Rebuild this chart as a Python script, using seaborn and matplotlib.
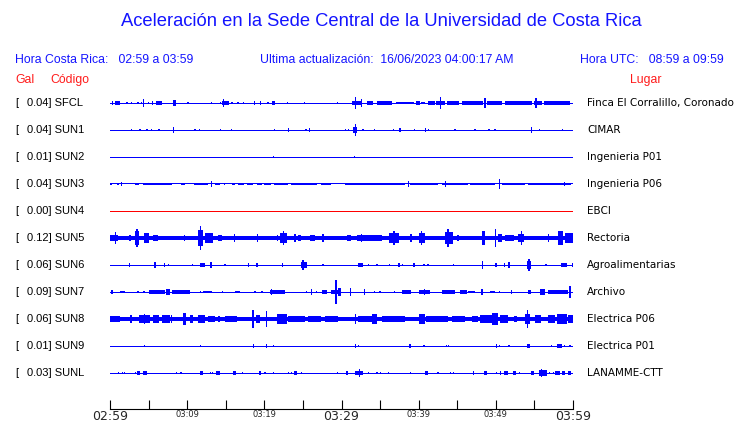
import numpy as np
import pandas as pd
import seaborn as sns
import matplotlib.pyplot as plt

# Stations (top to bottom)
codes = ["SFCL", "SUN1", "SUN2", "SUN3", "SUN4", "SUN5",
         "SUN6", "SUN7", "SUN8", "SUN9", "SUNL"]
gal = ["0.04", "0.04", "0.01", "0.04", "0.00", "0.12",
       "0.06", "0.09", "0.06", "0.01", "0.03"]
places = ["Finca El Corralillo, Coronado", "CIMAR", "Ingenieria P01",
          "Ingenieria P06", "EBCI", "Rectoria", "Agroalimentarias",
          "Archivo", "Electrica P06", "Electrica P01", "LANAMME-CTT"]

tick_minutes = list(range(0, 61, 5))
tick_labels = {0: "02:59", 10: "03:09", 20: "03:19", 30: "03:29",
               40: "03:39", 50: "03:49", 60: "03:59"}

# bursts: (start minute, end minute, relative half amplitude)
ev_sfcl = [(0.2, 0.4, 1.3), (0.6, 1.3, 1.3), (2.2, 2.2, 1), (2.8, 2.8, 1), (3.5, 3.7, 1),
           (4.1, 4.1, 1), (4.3, 4.3, 2.5), (5.0, 5.0, 1), (5.4, 5.6, 1.2), (6.0, 6.8, 1.3),
           (8.2, 8.5, 2), (10.1, 10.1, 1), (13.2, 13.2, 1), (14.3, 14.3, 1), (14.5, 15.4, 1.5),
           (14.7, 14.7, 3), (15.8, 15.8, 1), (16.6, 16.6, 1), (17.3, 17.3, 1), (18.6, 18.8, 1.2),
           (19.4, 19.6, 1.2), (20.4, 20.6, 1), (21.0, 21.4, 1.2), (23.0, 23.0, 1), (25.2, 25.2, 0.7),
           (29.5, 29.5, 1), (31.3, 32.7, 1.5), (31.8, 31.8, 4), (32.6, 32.6, 3), (33.3, 34.1, 1.2),
           (34.6, 36.5, 1.3), (37.0, 39.4, 1.0), (39.6, 40.2, 1.6), (40.3, 40.8, 1.0),
           (41.2, 42.1, 1.1), (42.3, 43.4, 1.6), (42.8, 42.8, 4), (43.7, 45.2, 1.1),
           (45.6, 48.4, 1.1), (48.6, 48.6, 3.5), (48.8, 50.8, 1.3), (51.2, 54.7, 1.1),
           (55.0, 56.0, 1.6), (55.2, 55.2, 3.5), (56.2, 59.6, 1.3)]
ev_sun1 = [(2.8, 2.8, 1), (3.9, 3.9, 1), (4.8, 4.8, 1), (5.4, 5.4, 0.7), (6.3, 6.4, 0.7),
           (8.2, 8.2, 2), (11.0, 11.0, 1), (11.6, 11.6, 1), (14.3, 14.3, 1), (15.7, 15.7, 1),
           (21.3, 21.3, 0.7), (23.1, 23.2, 1.2), (25.4, 25.4, 1), (25.9, 25.9, 1.5),
           (30.5, 30.5, 1), (30.9, 30.9, 1), (31.5, 32.0, 2), (31.8, 31.8, 4), (32.8, 32.8, 1),
           (34.3, 34.3, 1), (36.7, 36.7, 0.7), (37.5, 37.7, 1.5), (39.5, 39.5, 0.7),
           (40.8, 40.9, 1.2), (41.3, 41.3, 1), (44.7, 44.7, 1), (47.3, 47.3, 0.7),
           (49.1, 49.1, 1), (49.9, 49.9, 1), (54.6, 54.6, 2), (55.7, 55.7, 1), (58.6, 58.6, 1)]
ev_sun2 = [(21.2, 21.2, 0.6), (31.7, 31.7, 0.8)]
ev_sun3 = [(0.0, 0.3, 1), (0.9, 1.2, 1), (1.5, 1.5, 1.2), (3.2, 3.7, 1), (4.3, 8.0, 0.9),
           (9.2, 9.7, 1), (10.9, 12.7, 1), (13.2, 13.2, 2), (13.6, 14.3, 1), (14.8, 14.8, 0.8),
           (15.8, 16.2, 1), (16.6, 17.4, 0.9), (17.8, 18.5, 0.9), (19.0, 19.7, 0.9),
           (19.9, 20.9, 1), (21.2, 23.1, 1), (23.5, 26.8, 1), (27.3, 28.7, 1), (30.5, 38.2, 1),
           (38.7, 38.7, 2), (38.9, 42.5, 1), (43.0, 46.4, 1), (43.5, 43.5, 1.8),
           (46.7, 49.9, 1), (50.5, 50.5, 3.5), (50.8, 53.8, 1), (54.2, 59.8, 1),
           (58.9, 58.9, 1.5)]
ev_sun4 = []
ev_sun5 = [(0.0, 1.1, 2.3), (0.7, 0.7, 4), (2.6, 2.6, 2), (3.2, 3.8, 4.5), (3.5, 3.5, 6),
           (4.4, 5.0, 3.5), (5.6, 6.2, 2), (9.6, 9.7, 1.8), (11.4, 12.1, 5.5), (11.7, 11.7, 8),
           (12.3, 13.4, 3.5), (14.0, 14.5, 2), (16.1, 16.1, 3), (16.6, 17.5, 1.5),
           (19.1, 19.1, 2.5), (20.0, 21.0, 1.5), (21.6, 21.8, 2), (22.0, 22.9, 3.5),
           (22.5, 22.5, 5), (23.8, 24.1, 3), (24.4, 24.8, 1.8), (25.9, 26.6, 2), (27.6, 27.6, 3),
           (28.5, 29.6, 1.5), (30.7, 31.2, 2), (32.0, 33.9, 2.2), (32.6, 32.6, 3),
           (33.9, 35.2, 1.8), (36.1, 37.4, 3.5), (36.8, 36.8, 5), (39.0, 39.0, 3),
           (40.0, 40.8, 3.5), (40.4, 40.4, 5), (41.9, 41.9, 1.5), (43.4, 44.5, 4),
           (43.8, 43.8, 6), (45.1, 45.1, 2), (48.2, 48.6, 4.5), (50.0, 50.0, 6),
           (50.3, 50.8, 2.5), (51.2, 52.3, 2), (52.9, 53.6, 3), (53.3, 53.3, 4.5),
           (54.2, 55.5, 1.5), (56.8, 56.8, 2.5), (58.1, 58.7, 4.5), (58.9, 60.0, 3.5)]
ev_sun6 = [(2.5, 2.5, 1.2), (5.7, 6.0, 1.8), (7.1, 7.1, 1.2), (7.6, 7.6, 1), (10.7, 10.7, 1),
           (11.6, 12.3, 1.3), (13.1, 13.1, 2), (14.9, 14.9, 1), (17.9, 17.9, 1.2),
           (18.9, 19.2, 1.3), (22.4, 22.4, 1.2), (24.8, 25.5, 2), (25.0, 25.0, 3.5),
           (27.6, 27.6, 1), (32.1, 32.8, 1.2), (33.5, 33.5, 0.8), (34.6, 34.6, 1),
           (36.2, 36.2, 1), (37.3, 37.6, 1.3), (37.9, 37.9, 1), (39.4, 39.4, 1.2),
           (40.7, 40.7, 1), (41.2, 41.2, 1), (44.5, 44.5, 1), (48.3, 48.3, 2.5),
           (49.9, 50.2, 1.3), (51.1, 51.1, 1.2), (51.7, 51.7, 2), (54.1, 54.6, 3),
           (54.3, 54.3, 4), (56.5, 56.5, 1), (58.5, 59.2, 1.2), (59.9, 59.9, 1.5)]
ev_sun7 = [(0.1, 0.4, 1.2), (1.3, 2.0, 1), (3.5, 3.7, 1), (4.4, 4.4, 0.8), (5.0, 7.1, 1.2),
           (7.3, 7.8, 1.8), (8.0, 10.4, 1.3), (11.7, 11.7, 1), (12.1, 13.2, 1), (14.5, 14.7, 1),
           (16.2, 16.8, 1), (18.8, 18.8, 0.7), (19.7, 19.7, 0.7), (20.7, 22.7, 1.3),
           (20.9, 20.9, 2), (25.5, 25.5, 1), (26.1, 26.1, 2), (26.8, 26.8, 1), (27.5, 28.1, 1.2),
           (28.7, 29.6, 1.5), (29.3, 29.3, 8), (29.6, 29.9, 3), (31.2, 31.2, 2.5),
           (33.0, 33.0, 2), (34.3, 34.3, 1), (35.0, 35.0, 1), (36.9, 36.9, 0.7),
           (37.8, 39.0, 1.3), (40.0, 41.5, 1.3), (40.8, 40.8, 2), (43.0, 44.7, 1.2),
           (45.4, 46.2, 1.2), (46.4, 47.3, 1), (48.2, 48.2, 2), (49.3, 49.9, 1), (50.5, 50.5, 1),
           (52.0, 52.0, 1.5), (54.2, 54.6, 1.5), (55.7, 56.4, 1.8), (56.8, 59.4, 1.2),
           (59.6, 59.6, 4)]
ev_sun8 = [(0.0, 1.3, 2.3), (2.6, 2.8, 3), (3.7, 5.2, 2.5), (4.5, 4.5, 3.5), (5.6, 6.3, 2.5),
           (6.7, 7.8, 2.5), (8.0, 8.0, 3), (9.5, 9.9, 4), (10.4, 10.8, 2.5), (11.4, 12.3, 2.5),
           (12.7, 13.6, 2.2), (14.0, 14.3, 2), (14.9, 16.4, 2), (18.4, 18.7, 6),
           (18.9, 19.4, 3), (20.3, 20.3, 5.5), (21.6, 22.9, 3.2), (23.1, 25.3, 2.3),
           (25.7, 27.4, 2.2), (27.9, 29.6, 2.2), (31.8, 31.8, 3.5), (32.2, 33.9, 2.3),
           (33.9, 34.6, 3.5), (35.2, 38.2, 2.2), (40.0, 40.8, 3.5), (41.0, 43.8, 2.3),
           (44.3, 46.0, 2.3), (46.9, 47.7, 2), (48.0, 49.5, 2.6), (49.5, 50.3, 4),
           (50.5, 51.6, 2.5), (52.3, 52.7, 2.2), (53.8, 54.4, 3.3), (54.1, 54.1, 6),
           (55.1, 55.9, 2.5), (56.8, 57.7, 2.5), (57.9, 59.2, 3.5), (59.4, 60.0, 2.5)]
ev_sun9 = [(4.5, 4.5, 0.8), (11.7, 11.7, 0.7), (18.6, 18.6, 1.2), (20.3, 20.3, 1.2),
           (21.2, 21.2, 0.7), (31.7, 31.9, 1.3), (32.2, 32.2, 0.7), (38.7, 39.0, 1.3),
           (40.6, 40.8, 0.8), (43.6, 43.6, 1), (43.9, 43.9, 0.7), (50.1, 50.1, 1.2),
           (50.5, 50.5, 1), (51.6, 51.6, 0.7), (51.8, 51.8, 0.7), (54.0, 54.4, 1.3),
           (57.2, 57.2, 1), (57.9, 58.4, 1.3), (58.5, 58.5, 1.2), (58.9, 58.9, 1),
           (59.6, 59.6, 0.8)]
ev_sunl = [(1.1, 1.1, 1), (1.6, 1.6, 1), (1.9, 1.9, 1), (3.3, 3.3, 1), (3.5, 3.9, 1.3),
           (4.3, 4.8, 1.3), (8.6, 8.6, 1), (9.2, 9.2, 1), (11.7, 12.0, 1.3), (13.0, 13.0, 0.8),
           (13.3, 13.3, 1), (13.8, 14.3, 1.3), (15.9, 16.3, 1.3), (17.2, 17.2, 0.7),
           (19.3, 19.6, 1.3), (20.1, 20.1, 1), (21.2, 21.2, 0.7), (23.1, 23.1, 1),
           (23.5, 23.5, 1), (23.8, 24.2, 1.5), (24.8, 24.8, 0.7), (29.5, 29.5, 0.7),
           (30.6, 30.8, 1.2), (31.7, 32.8, 1.5), (32.3, 32.3, 2.5), (33.5, 33.5, 1),
           (34.6, 34.6, 0.7), (35.1, 35.1, 1), (36.1, 36.1, 0.7), (38.9, 38.9, 1),
           (40.8, 41.2, 1.5), (42.5, 42.5, 1), (44.1, 44.1, 1), (44.5, 44.5, 1),
           (47.1, 47.2, 1.2), (48.5, 48.9, 1.2), (50.1, 50.1, 1), (50.5, 50.7, 1.2),
           (51.1, 51.6, 1.3), (52.2, 52.6, 1.3), (53.1, 53.1, 0.7), (54.6, 54.9, 1.2),
           (55.6, 56.6, 1.8), (55.9, 55.9, 3), (57.0, 57.0, 1), (57.5, 57.5, 0.7),
           (57.7, 58.3, 1.3), (58.6, 59.0, 1.2), (59.4, 59.8, 1.2)]

events = [ev_sfcl, ev_sun1, ev_sun2, ev_sun3, ev_sun4, ev_sun5,
          ev_sun6, ev_sun7, ev_sun8, ev_sun9, ev_sunl]

# style of each trace (baseline width in px) and px per amplitude unit
trace_px = [1, 1, 1, 1, 1, 3.3, 1, 1, 3.8, 1, 1]
gain = 1.45
trace_color = ["#0000ff"] * 11
trace_color[4] = "#ff0000"

BLUE = "#1414ff"
RED = "#ff1a1a"

sns.set_style("white")
fig = plt.figure(figsize=(7.4, 4.23), dpi=100)
W, H = 740, 423
ax = fig.add_axes([110 / W, (H - 409) / H, 463 / W, 319 / H])

row0, row_step = 103, 27
for i, code in enumerate(codes):
    y0 = row0 + row_step * i
    # baseline drawn as a thin bar spanning the whole hour
    half = trace_px[i] / 2
    ax.bar(0, 2 * half, width=60, bottom=y0 - half, align="edge",
           color=trace_color[i], linewidth=0)
    if events[i]:
        ev = pd.DataFrame(events[i], columns=["start", "end", "amp"])
        mid = (ev["start"] + ev["end"]) / 2
        width = np.maximum(ev["end"] - ev["start"], 0.16)
        amp = np.maximum(ev["amp"] * gain, half + 0.8)
        ax.bar(mid, 2 * amp, width=width, bottom=y0 - amp,
               color=trace_color[i], linewidth=0)

ax.set_xlim(0, 60)
ax.set_ylim(409, 90)
ax.set_yticks([])
ax.set_xticks(tick_minutes)
ax.set_xticklabels([tick_labels.get(m, "") for m in tick_minutes])
for m, lab in zip(tick_minutes, ax.get_xticklabels()):
    lab.set_fontsize(9 if m in (0, 30, 60) else 6)
    lab.set_fontfamily("DejaVu Sans")
ax.tick_params(axis="x", bottom=True, direction="in", length=6.5, width=0.8,
               color="black", pad=1)
for s in ["top", "left", "right"]:
    ax.spines[s].set_visible(False)
ax.spines["bottom"].set_color("black")
ax.spines["bottom"].set_linewidth(0.8)
ax.set_xlabel("")
ax.set_ylabel("")


def ftext(x, y, s, **kw):
    fig.text(x / W, 1 - y / H, s, va="center", **kw)


lib = "Liberation Sans"
ftext(381, 22, "Aceleración en la Sede Central de la Universidad de Costa Rica",
      ha="center", color=BLUE, fontsize=13.2, family=lib)
ftext(15, 60, "Hora Costa Rica:   02:59 a 03:59", color=BLUE, fontsize=8.8, family=lib)
ftext(260, 60, "Ultima actualización:  16/06/2023 04:00:17 AM", color=BLUE,
      fontsize=8.8, family=lib)
ftext(724, 60, "Hora UTC:   08:59 a 09:59", ha="right", color=BLUE, fontsize=8.8, family=lib)
ftext(15, 80, "Gal", color=RED, fontsize=8.8, family=lib)
ftext(50, 80, "Código", color=RED, fontsize=8.8, family=lib)
ftext(646, 80, "Lugar", ha="center", color=RED, fontsize=8.8, family=lib)

for i, code in enumerate(codes):
    y0 = row0 + row_step * i
    ftext(15, y0, "[", color="black", fontsize=8, family=lib)
    ftext(27, y0, f"{gal[i]}] {code}", color="black", fontsize=8, family=lib)
    ftext(587, y0, places[i], color="black", fontsize=7.5, family="DejaVu Sans")

fig.savefig("out.png", dpi=100)
